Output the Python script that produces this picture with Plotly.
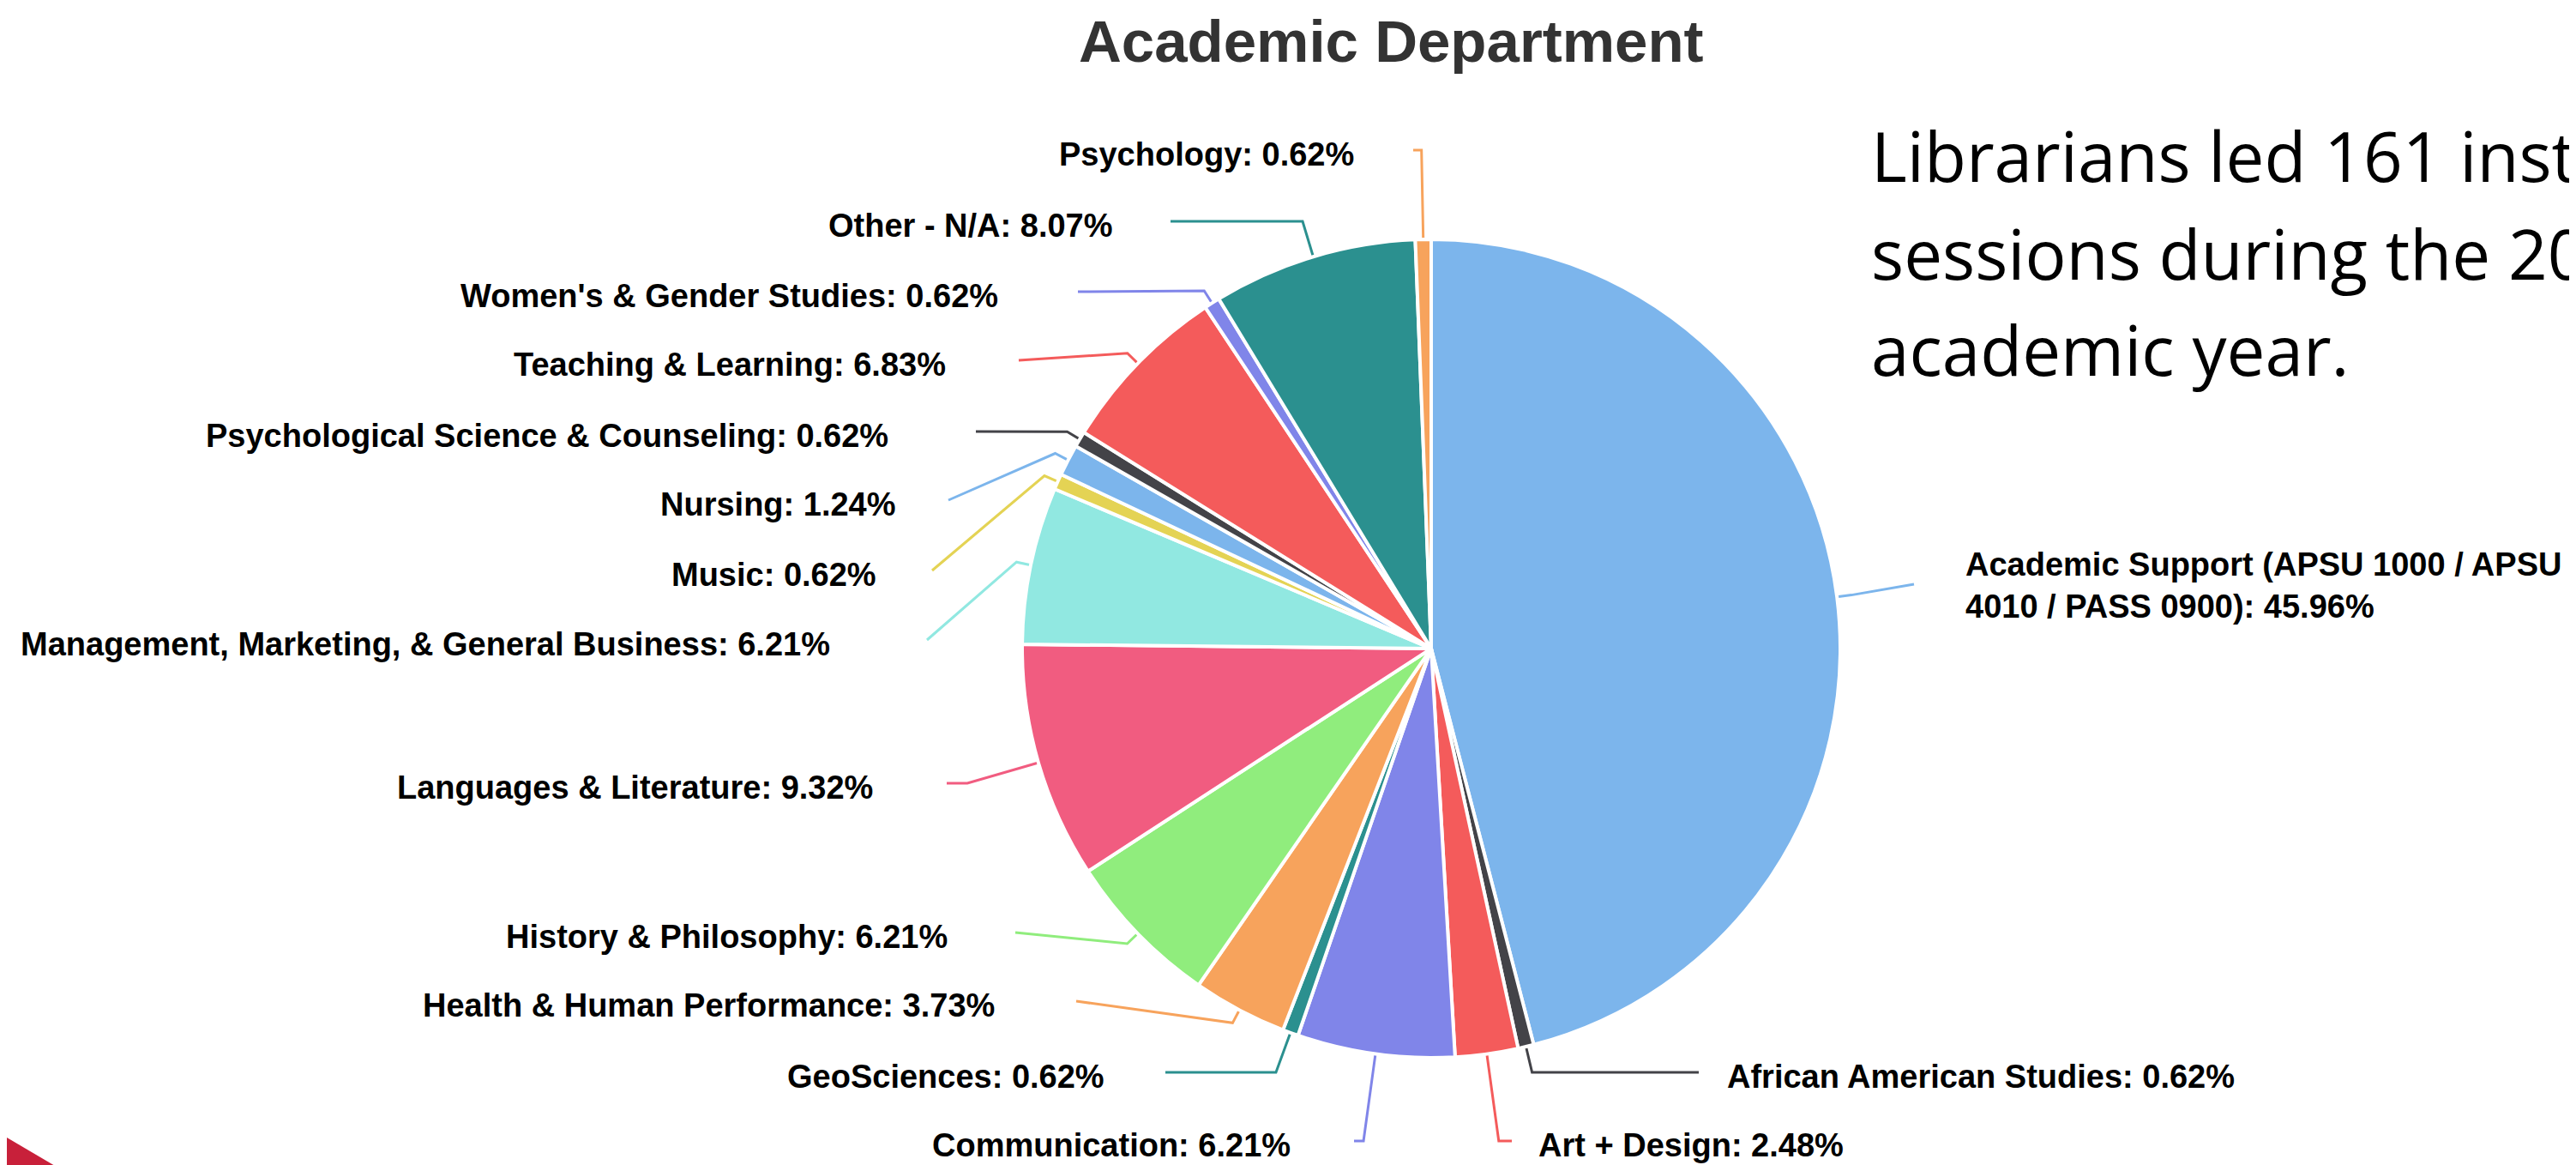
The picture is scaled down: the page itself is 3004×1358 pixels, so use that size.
import math
import textwrap
import plotly.graph_objects as go

# ---------------- data ----------------
categories = [
    "Academic Support (APSU 1000 / APSU 4010 / PASS 0900)",
    "African American Studies",
    "Art + Design",
    "Communication",
    "GeoSciences",
    "Health & Human Performance",
    "History & Philosophy",
    "Languages & Literature",
    "Management, Marketing, & General Business",
    "Music",
    "Nursing",
    "Psychological Science & Counseling",
    "Teaching & Learning",
    "Women's & Gender Studies",
    "Other - N/A",
    "Psychology",
]
percent = [45.96, 0.62, 2.48, 6.21, 0.62, 3.73, 6.21, 9.32,
           6.21, 0.62, 1.24, 0.62, 6.83, 0.62, 8.07, 0.62]

title_text = "Academic Department"
side_lines = ["Librarians led 161 instruction",
              "sessions during the 2023-2024",
              "academic year."]

# ---------------- styles / layout ----------------
colors = ["#7cb5ec", "#434348", "#f45b5b", "#8085e9", "#2b908f", "#f7a35c",
          "#90ed7d", "#f15c80", "#91e8e1", "#e4d354", "#7cb5ec", "#434348",
          "#f45b5b", "#8085e9", "#2b908f", "#f7a35c"]

W, H = 3004, 1358
CX, CY, RAD = 1661, 748, 477      # pie centre / radius in px
BREAK_OFF = 17                    # connector break distance beyond the rim

# label anchor layout (connector y, connector start x, text edge x) in px
label_y = [673, 1242, 1322, 1322, 1242, 1159, 1079, 905,
           738, 657, 575, 495, 412, 332, 250, 167]
conn_x = [2224, 1973, 1755, 1571, 1351, 1247, 1176, 1096,
          1073, 1079, 1098, 1130, 1180, 1249, 1357, 1640]
text_x = [2282, 2004, 1784, 1499, 1282, 1154, 1099, 1012,
          962, 1016, 1039, 1030, 1097, 1158, 1292, 1573]

LABEL_FONT = dict(family="Liberation Sans, Arial, sans-serif", size=38,
                  color="#000000", weight="bold")

fig = go.Figure()

# pie
fig.add_trace(go.Pie(
    labels=categories, values=percent, sort=False, direction="clockwise",
    rotation=0, textinfo="none", hoverinfo="label+percent",
    marker=dict(colors=colors, line=dict(color="#ffffff", width=4)),
    domain=dict(x=[(CX - RAD) / W, (CX + RAD) / W],
                y=[(H - CY - RAD) / H, (H - CY + RAD) / H]),
    showlegend=False,
))

# connectors + labels
total = sum(percent)
cum = 0.0
annotations = []
for i, (name, p) in enumerate(zip(categories, percent)):
    theta = (cum + p / 2) / total * 2 * math.pi   # clockwise from 12 o'clock
    cum += p
    ux, uy = math.sin(theta), -math.cos(theta)
    tx, ty = CX + RAD * ux, CY + RAD * uy
    bx, by = CX + (RAD + BREAK_OFF) * ux, CY + (RAD + BREAK_OFF) * uy
    y = label_y[i]
    x = conn_x[i]
    right_side = ux > 0
    crook_x = CX + (CY - y) * math.tan(theta)
    xs, ys = [x], [y]
    if right_side:
        if bx <= crook_x <= x:
            xs.append(crook_x); ys.append(y)
    else:
        if x <= crook_x <= bx:
            xs.append(crook_x); ys.append(y)
    xs += [bx, tx]
    ys += [by, ty]
    fig.add_trace(go.Scatter(x=xs, y=ys, mode="lines",
                             line=dict(color=colors[i], width=3),
                             hoverinfo="skip", showlegend=False))
    txt = f"{name}: {p:.2f}%"
    if right_side:
        txt = "<br>".join(textwrap.wrap(txt, 34))
    n_lines = txt.count("<br>") + 1
    annotations.append(dict(
        x=text_x[i], y=y + (5 if n_lines == 1 else 1), xref="x", yref="y",
        text=txt, showarrow=False, font=LABEL_FONT,
        xanchor="left" if right_side else "right", yanchor="middle",
        align="left" if right_side else "right",
    ))

# title
annotations.append(dict(
    x=1614, y=40, xref="x", yref="y", text=title_text, showarrow=False,
    font=dict(family="Liberation Sans, Arial, sans-serif", size=69,
              color="#333333", weight="bold"),
    xanchor="center", yanchor="middle"))

# side text
side_centres = [172, 286, 398]
for line, yc in zip(side_lines, side_centres):
    annotations.append(dict(
        x=2172, y=yc, xref="x", yref="y", text=line, showarrow=False,
        font=dict(family="Open Sans, Noto Sans, sans-serif", size=80,
                  color="#000000"),
        xanchor="left", yanchor="middle"))

fig.update_layout(
    width=W, height=H,
    margin=dict(l=0, r=0, t=0, b=0),
    paper_bgcolor="#ffffff", plot_bgcolor="rgba(0,0,0,0)",
    xaxis=dict(range=[0, W], visible=False, fixedrange=True, domain=[0, 1]),
    yaxis=dict(range=[H, 0], visible=False, fixedrange=True, domain=[0, 1]),
    annotations=annotations,
    shapes=[dict(type="path", xref="x", yref="y",
                 path=f"M 0 1318 L 68 {H} L 0 {H} Z",
                 fillcolor="#c8203a", line=dict(width=0), layer="above")],
)

fig.write_html("out.html")
